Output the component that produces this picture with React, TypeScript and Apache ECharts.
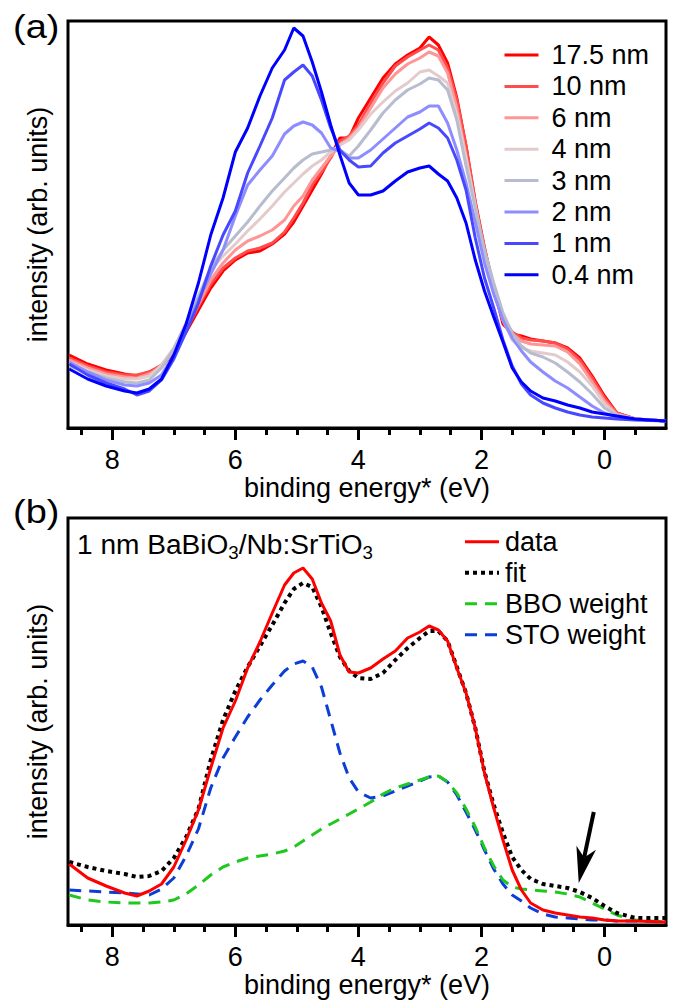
import React, { useEffect, useRef } from "react";
import * as echarts from "echarts";

// shared binding-energy grid (eV)
const energy = [8.7, 8.4, 8.1, 7.8, 7.6, 7.4, 7.2, 7.0, 6.8, 6.6, 6.4, 6.2, 6.0, 5.8, 5.6, 5.4, 5.2, 5.05, 4.9, 4.75, 4.6, 4.45, 4.3, 4.15, 4.0, 3.8, 3.6, 3.4, 3.2, 3.0, 2.85, 2.7, 2.55, 2.4, 2.25, 2.1, 1.95, 1.8, 1.65, 1.5, 1.35, 1.2, 1.0, 0.8, 0.6, 0.4, 0.2, 0.0, -0.2, -0.5, -1.0];

// panel (a): thickness series
const thicknessNames = ["17.5 nm", "10 nm", "6 nm", "4 nm", "3 nm", "2 nm", "1 nm", "0.4 nm"];
const thicknessColors = ["#ff0000", "#ff4d4d", "#ff9696", "#e3cbcb", "#b8bccf", "#8d8dff", "#4848ff", "#0000ff"];
const t175 = [73, 64, 58, 54, 52, 56, 61, 76, 96, 118, 140, 157, 168, 175, 177, 184, 194, 206, 222, 238, 254, 272, 290, 290, 310, 330, 350, 364, 373, 380, 391, 383, 365, 330, 282, 226, 180, 140, 104, 94, 92, 89, 87, 85, 80, 70, 52, 32, 15, 9, 7];
const t10 = [70, 62, 56, 53, 53, 56, 63, 77, 98, 122, 144, 160, 170, 177, 180, 185, 196, 210, 225, 243, 256, 270, 287, 292, 303, 325, 345, 362, 371, 378, 383, 378, 360, 328, 282, 226, 180, 140, 108, 96, 90, 88, 87, 85, 79, 68, 50, 30, 15, 9, 7];
const t6 = [68, 60, 54, 51, 50, 54, 61, 78, 100, 124, 148, 165, 178, 187, 192, 198, 208, 222, 232, 248, 260, 272, 283, 290, 300, 320, 340, 354, 364, 370, 376, 372, 355, 320, 272, 222, 172, 135, 110, 94, 87, 84, 83, 82, 76, 64, 46, 27, 14, 9, 7];
const t4 = [66, 58, 52, 49, 49, 52, 63, 80, 104, 130, 158, 172, 184, 197, 209, 222, 236, 245, 254, 262, 268, 276, 283, 288, 298, 314, 326, 337, 345, 356, 358, 352, 345, 313, 270, 222, 174, 138, 108, 88, 80, 77, 75, 73, 66, 56, 42, 24, 13, 9, 7];
const t3 = [62, 56, 50, 46, 45, 48, 60, 79, 105, 132, 160, 178, 192, 206, 222, 237, 250, 260, 268, 274, 276, 278, 278, 272, 282, 298, 315, 328, 338, 344, 350, 348, 338, 308, 262, 220, 178, 145, 115, 95, 82, 75, 71, 65, 56, 46, 34, 20, 13, 9, 7];
const t2 = [66, 56, 48, 43, 42, 45, 53, 73, 100, 128, 154, 178, 212, 243, 258, 272, 294, 302, 306, 303, 295, 280, 277, 270, 270, 278, 289, 300, 311, 316, 322, 322, 305, 278, 245, 206, 165, 134, 108, 90, 77, 66, 56, 47, 40, 31, 22, 15, 11, 9, 7];
const t1 = [64, 53, 45, 39, 33, 37, 48, 69, 96, 125, 162, 193, 217, 255, 282, 310, 348, 356, 363, 352, 328, 300, 278, 268, 261, 262, 275, 285, 292, 299, 305, 300, 290, 268, 238, 190, 150, 120, 88, 62, 44, 33, 25, 20, 16, 13, 11, 10, 9, 8, 7];
const t04 = [59, 49, 42, 37, 35, 39, 49, 73, 104, 145, 193, 230, 276, 300, 332, 360, 378, 400, 392, 366, 336, 303, 273, 245, 233, 233, 237, 247, 256, 260, 262, 254, 247, 230, 205, 168, 137, 111, 86, 60, 46, 37, 30, 27, 23, 20, 16, 14, 12, 9, 7];
const thicknessValues = [t175, t10, t6, t4, t3, t2, t1, t04];

// panel (b): 1 nm decomposition
const fitNames = ["data", "fit", "BBO weight", "STO weight"];
const dataB = [61, 47, 39, 32, 29, 34, 41, 58, 85, 115, 157, 197, 224, 257, 283, 312, 340, 352, 357, 346, 322, 304, 270, 253, 252, 257, 266, 274, 287, 293, 299, 295, 284, 257, 232, 197, 152, 117, 85, 55, 35, 22, 15, 12, 10, 8, 7, 5, 4, 4, 3];
const fitB = [63, 58, 54, 51, 48, 49, 54, 67, 88, 116, 165, 205, 234, 258, 279, 300, 322, 336, 342, 338, 318, 292, 268, 254, 247, 246, 252, 265, 277, 287, 294, 294, 284, 258, 232, 197, 153, 120, 92, 68, 55, 46, 41, 39, 37, 33, 27, 19, 12, 7, 7];
const bboB = [30, 25, 23, 22, 22, 22, 23, 25, 31, 40, 50, 58, 63, 67, 69, 71, 74, 78, 84, 90, 96, 101, 106, 111, 116, 123, 131, 137, 141, 145, 148, 149, 143, 132, 116, 98, 77, 59, 45, 38, 36, 35, 34, 33, 31, 28, 22, 16, 10, 5, 3];
const stoB = [35, 34, 33, 32, 31, 30, 36, 47, 69, 96, 137, 167, 188, 208, 225, 240, 254, 261, 264, 258, 238, 205, 172, 147, 133, 127, 129, 134, 139, 144, 148, 149, 143, 130, 113, 95, 75, 56, 41, 30, 24, 17, 11, 8, 7, 6, 5, 5, 4, 4, 3];

const majorTicks = [0, 2, 4, 6, 8];
const minorTicks = [-0.5, 0.5, 1, 1.5, 2.5, 3, 3.5, 4.5, 5, 5.5, 6.5, 7, 7.5, 8.5];
// annotation arrow (data coordinates of panel b): tail and tip
const arrowFrom = [0.174, 113];
const arrowTip = [0.418, 42];

const F = "'Liberation Sans', Arial, sans-serif";
const FS = 27;

function pairs(vals: number[]) {
  return energy.map((e, i) => [e, vals[i]]);
}

function xAxesFor(gridIndex: number) {
  return [
    {
      type: "value", gridIndex, min: -1, max: 8.72, inverse: true, interval: 0.5, position: "bottom",
      name: "binding energy* (eV)", nameLocation: "middle", nameGap: 46,
      nameTextStyle: { fontSize: FS, color: "#000", fontFamily: F },
      axisLine: { show: true, lineStyle: { color: "#000", width: 3 } },
      axisTick: { show: true, customValues: majorTicks, length: 12, lineStyle: { color: "#000", width: 3 } },
      axisLabel: { show: true, customValues: majorTicks, margin: 18, fontSize: FS, color: "#000", fontFamily: F },
      splitLine: { show: false },
    },
    {
      type: "value", gridIndex, min: -1, max: 8.72, inverse: true, interval: 0.5, position: "bottom",
      axisLine: { show: false },
      axisTick: { show: true, customValues: minorTicks, length: 7, lineStyle: { color: "#000", width: 3 } },
      axisLabel: { show: false },
      splitLine: { show: false },
    },
  ];
}

function yAxisFor(gridIndex: number) {
  return {
    type: "value", gridIndex, min: 0, max: 407,
    name: "intensity (arb. units)", nameLocation: "middle", nameGap: 17,
    nameTextStyle: { fontSize: FS, color: "#000", fontFamily: F },
    axisLine: { show: false }, axisTick: { show: false }, axisLabel: { show: false }, splitLine: { show: false },
  };
}

export default function App() {
  const ref = useRef<HTMLDivElement>(null);
  useEffect(() => {
    if (!ref.current) return;
    const chart = echarts.init(ref.current, undefined, { renderer: "svg" });
    const seriesA = thicknessNames.map((name, k) => ({
      type: "line", name, xAxisIndex: 0, yAxisIndex: 0, data: pairs(thicknessValues[k]),
      symbol: "none", showSymbol: false, silent: true,
      lineStyle: { width: 3, color: thicknessColors[k] }, itemStyle: { color: thicknessColors[k] },
    }));
    const bStyles = [
      { color: "#ff0000", width: 3, type: "solid" },
      { color: "#000000", width: 4, type: [4, 4] },
      { color: "#1ec81e", width: 3, type: [12, 8] },
      { color: "#0b3ed6", width: 3, type: [12, 8] },
    ];
    const bValues = [dataB, fitB, bboB, stoB];
    const order = [3, 2, 1, 0];
    const seriesB = order.map((k) => ({
      type: "line", name: fitNames[k], xAxisIndex: 2, yAxisIndex: 1, data: pairs(bValues[k]),
      symbol: "none", showSymbol: false, silent: true,
      lineStyle: { width: bStyles[k].width, color: bStyles[k].color, type: bStyles[k].type as any },
      itemStyle: { color: bStyles[k].color },
      z: k === 0 ? 4 : 3,
    }));
    const texts: any[] = [
      { type: "text", x: 13, y: 27, scaleX: 1.15, style: { text: "(a)", fontSize: 33, fontFamily: F, fill: "#000", verticalAlign: "middle" } },
      { type: "text", x: 13, y: 512, scaleX: 1.15, style: { text: "(b)", fontSize: 33, fontFamily: F, fill: "#000", verticalAlign: "middle" } },
      {
        type: "text", x: 77, y: 545, scaleX: 1.04,
        style: {
          text: "{a|1 nm BaBiO}{s|3}{a|/Nb:SrTiO}{s|3}",
          verticalAlign: "middle",
          rich: {
            a: { fontSize: FS, fontFamily: F, fill: "#000" },
            s: { fontSize: 18, fontFamily: F, fill: "#000", padding: [16, 0, 0, 0] },
          },
        },
      },
    ];
    chart.setOption({
      animation: false,
      backgroundColor: "#fff",
      grid: [
        { left: 68, top: 21, width: 598, height: 407, show: true, borderColor: "#000", borderWidth: 3, backgroundColor: "transparent", outerBoundsMode: "none" },
        { left: 68, top: 518, width: 598, height: 407, show: true, borderColor: "#000", borderWidth: 3, backgroundColor: "transparent", outerBoundsMode: "none" },
      ],
      xAxis: [...xAxesFor(0), ...xAxesFor(1)],
      yAxis: [yAxisFor(0), yAxisFor(1)],
      legend: [
        {
          orient: "vertical", left: 503, top: 39.3, padding: 0, itemWidth: 34, itemHeight: 14, itemGap: 0,
          data: thicknessNames, selectedMode: false,
          textStyle: { fontSize: FS, fontFamily: F, color: "#000", lineHeight: 31.4, padding: [0, 0, 0, 8] },
          lineStyle: { width: "inherit" },
          itemStyle: { opacity: 0 },
        },
        {
          orient: "vertical", left: 463, top: 526.2, padding: 0, itemWidth: 34, itemHeight: 14, itemGap: 0,
          data: fitNames, selectedMode: false,
          textStyle: { fontSize: FS, fontFamily: F, color: "#000", lineHeight: 31, padding: [0, 0, 0, 1] },
          lineStyle: { width: "inherit" },
          itemStyle: { opacity: 0 },
        },
      ],
      graphic: texts,
      series: [...seriesA, ...seriesB],
    } as any);

    // arrow annotation, placed through the panel-b axes
    const p0 = chart.convertToPixel({ xAxisIndex: 2, yAxisIndex: 1 } as any, arrowFrom) as number[];
    const p1 = chart.convertToPixel({ xAxisIndex: 2, yAxisIndex: 1 } as any, arrowTip) as number[];
    const dx = p1[0] - p0[0];
    const dy = p1[1] - p0[1];
    const L = Math.hypot(dx, dy) || 1;
    const ux = dx / L, uy = dy / L, nx = -uy, ny = ux;
    const headLen = 36, halfW = 10, notch = 26;
    const head = [
      [p1[0], p1[1]],
      [p1[0] - headLen * ux + halfW * nx, p1[1] - headLen * uy + halfW * ny],
      [p1[0] - notch * ux, p1[1] - notch * uy],
      [p1[0] - headLen * ux - halfW * nx, p1[1] - headLen * uy - halfW * ny],
    ];
    chart.setOption({
      graphic: [
        ...texts,
        { type: "line", silent: true, shape: { x1: p0[0], y1: p0[1], x2: p1[0] - notch * ux, y2: p1[1] - notch * uy }, style: { stroke: "#000", lineWidth: 4 } },
        { type: "polygon", silent: true, shape: { points: head }, style: { fill: "#000" } },
      ],
    } as any);
    return () => chart.dispose();
  }, []);
  return <div ref={ref} style={{ position: "absolute", left: 0, top: 0, width: 675, height: 1003 }} />;
}
